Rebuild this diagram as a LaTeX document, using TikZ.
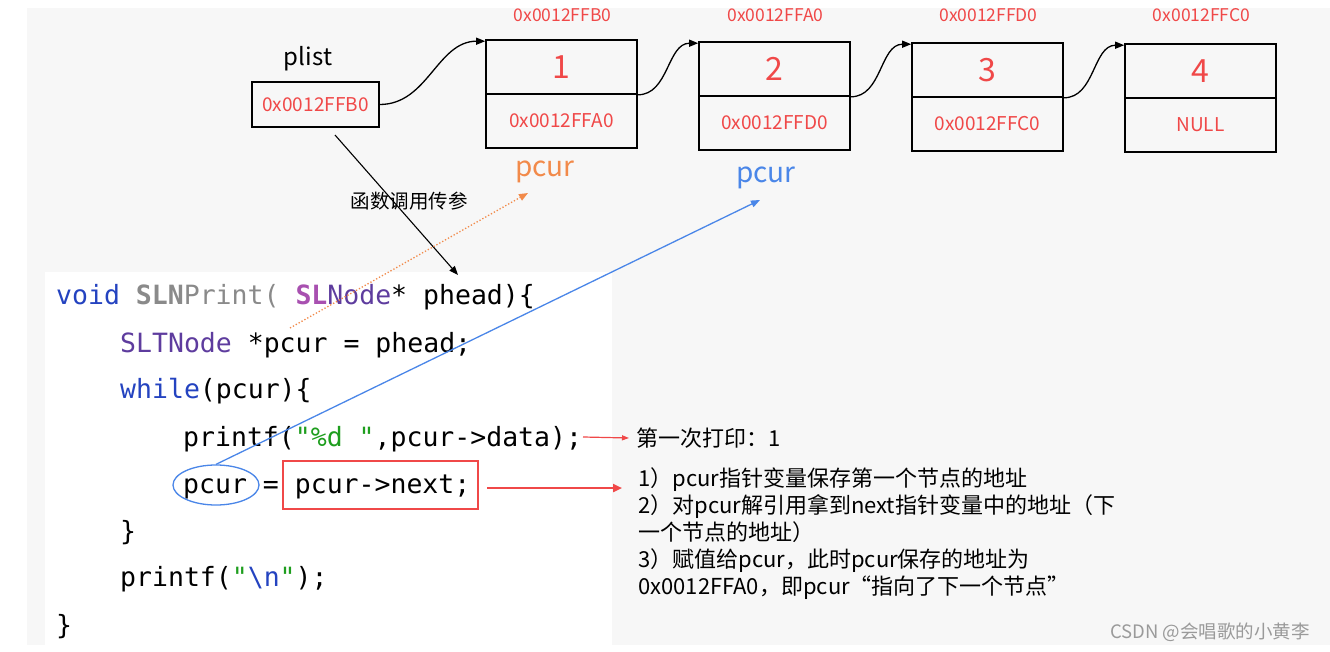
\documentclass[tikz,border=0pt]{standalone}
\usepackage{fontspec}
\setmainfont{Noto Sans CJK SC}
\newfontfamily\codefont{DejaVu Sans Mono}
\usetikzlibrary{shapes.geometric,arrows.meta}
\definecolor{bg}{HTML}{F7F7F7}
\definecolor{myred}{HTML}{F04848}
\definecolor{myorange}{HTML}{F28A4A}
\definecolor{myblue}{HTML}{4A86E8}
\definecolor{cblue}{HTML}{2443C0}
\definecolor{cgray}{HTML}{8A8A8A}
\definecolor{cmag}{HTML}{A850B0}
\definecolor{cpurp}{HTML}{5E3C9E}
\definecolor{cgreen}{HTML}{1E9E1E}
\definecolor{wm}{HTML}{9A9A9A}
\tikzset{
  cell/.style={draw, line width=1.6pt, minimum width=151pt, minimum height=54pt, inner sep=0pt, text=myred},
  addr/.style={text=myred, font=\fontsize{17.5}{20}\selectfont, inner sep=0pt},
  conn/.style={line width=1.3pt, -{Triangle[length=9pt,width=7pt]}},
  code/.style={anchor=base west, inner sep=0pt, font=\codefont\fontsize{26.5}{30}\selectfont},
  note/.style={inner sep=0pt, font=\fontsize{22}{27}\selectfont, align=left}
}
\begin{document}
\begin{tikzpicture}[x=1pt,y=-1pt]
\useasboundingbox (0,0) rectangle (1330,652);
\fill[white] (0,0) rectangle (1330,652);
\fill[bg] (27,8) rectangle (1330,645);
\fill[white] (45,272) rectangle (612,645);

% plist
\node[inner sep=0pt, font=\fontsize{24}{28}\selectfont] (plab) at (308,59) {plist};
\node[draw, line width=1.6pt, minimum width=127pt, minimum height=45pt, inner sep=0pt, text=myred, font=\fontsize{19}{22}\selectfont] (plist) at (315.5,104.5) {0x0012FFB0};

% list nodes
\foreach \i/\x/\t/\v/\nx/\ad in {1/561.5/40/1/0x0012FFA0/0x0012FFB0, 2/774.5/42/2/0x0012FFD0/0x0012FFA0, 3/987.5/43/3/0x0012FFC0/0x0012FFD0, 4/1200.5/44/4/NULL/0x0012FFC0}{
  \node[cell, font=\fontsize{32}{36}\selectfont] (n\i a) at (\x,\t+27) {\v};
  \node[cell, font=\fontsize{19}{22}\selectfont] (n\i b) at (\x,\t+81) {\nx};
  \node[addr] (ad\i) at (\x+1,15) {\ad};
}

\draw[conn] (plist.east) to[out=0,in=180] ([yshift=-2pt]n1a.north west);
\draw[conn] (n1a.south east) to[out=0,in=180] ([yshift=-2pt]n2a.north west);
\draw[conn] (n2a.south east) to[out=0,in=180] ([yshift=-2pt]n3a.north west);
\draw[conn] (n3a.south east) to[out=0,in=180] ([yshift=-2pt]n4a.north west);

\node[inner sep=0pt, text=myorange, font=\fontsize{28}{32}\selectfont] (po) at (545,172) {pcur};
\node[inner sep=0pt, text=myblue, font=\fontsize{28}{32}\selectfont] (pb) at (766,178) {pcur};

\node[inner sep=0pt, font=\fontsize{19.5}{22}\selectfont] (fn) at (409,201) {函数调用传参};

% code
\node[code] (c1) at (56,305) {\textcolor{cblue}{void} \textcolor{cgray}{\bfseries SLN}\textcolor{cgray}{Print(} \textcolor{cmag}{\bfseries SL}\textcolor{cpurp}{Node}* phead)\{};
\node[code] (c2) at (120,352) {\textcolor{cpurp}{SLTNode} *pcur = phead;};
\node[code] (c3) at (120,398) {\textcolor{cblue}{while}(pcur)\{};
\node[code] (c4) at (183,446) {printf(\textcolor{cgreen}{"\%d "},pcur->data);};
\node[code] (c5) at (183,493) {pcur = pcur->next;};
\node[code] (c6) at (120,540) {\}};
\node[code] (c7) at (120,586) {printf(\textcolor{cgreen}{"}\textcolor{cblue}{\textbackslash n}\textcolor{cgreen}{"});};
\node[code] (c8) at (56,634) {\}};

\node[draw=myred, line width=1.4pt, minimum width=195pt, minimum height=48pt, inner sep=0pt] (nxbox) at (380.5,485) {};
\node[ellipse, draw=myblue, line width=1.3pt, minimum width=86pt, minimum height=40pt, inner sep=0pt] (ell) at (216,485) {};

% arrows
\coordinate (bs) at (335,135);
\coordinate (be) at (458,275);
\draw[conn, line width=1.1pt] (bs) -- (be);
\coordinate (os) at (290,328);
\coordinate (oe) at (528,193);
\draw[myorange, dotted, line width=1.3pt, -{Triangle[length=9pt,width=7pt]}] (os) -- (oe);
\coordinate (be2) at (760,200);
\draw[myblue, line width=1.3pt, -{Triangle[length=9pt,width=7pt]}] (ell.north) -- (be2);

% notes
\node[note, anchor=west] (t1) at (636,438) {第一次打印：1};
\node[note, anchor=north west] (t2) at (638,467) {1）pcur指针变量保存第一个节点的地址\\2）对pcur解引用拿到next指针变量中的地址（下\\一个节点的地址）\\3）赋值给pcur，此时pcur保存的地址为\\0x0012FFA0，即pcur“指向了下一个节点”};
\coordinate (r1s) at (583,437);
\draw[myred, line width=1.2pt, -{Triangle[length=7pt,width=5pt]}] (r1s) -- ([xshift=-7pt]t1.west);
\coordinate (r2s) at (487,488);
\coordinate (r2e) at (622,488);
\draw[myred, line width=2.6pt, -{Triangle[length=9pt,width=8pt]}] (r2s) -- (r2e);

\node[inner sep=0pt, text=wm, font=\fontsize{18.5}{22}\selectfont] (wmk) at (1210,632) {CSDN @会唱歌的小黄李};
\end{tikzpicture}
\end{document}
